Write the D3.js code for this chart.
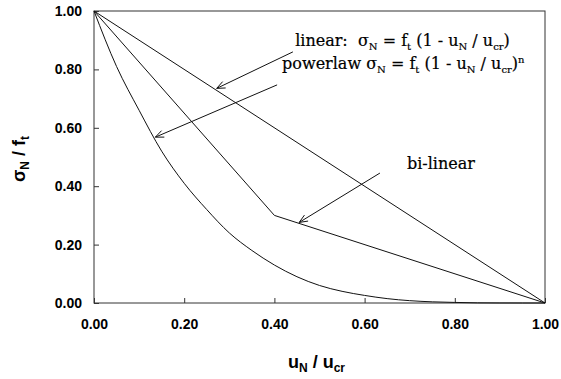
<!DOCTYPE html>
<html>
<head>
<meta charset="utf-8">
<script src="https://cdn.jsdelivr.net/npm/d3@7"></script>
<style>
  body { margin: 0; background: #fff; }
  .tick-lbl { font-family: "Liberation Sans", Arial, sans-serif; font-weight: bold; font-size: 14px; }
  .ax-lbl { font-family: "Liberation Sans", Arial, sans-serif; font-weight: bold; font-size: 18px; }
  .note { font-family: "DejaVu Serif", serif; font-size: 16px; stroke: #000; stroke-width: 0.2px; }
</style>
</head>
<body>
<div id="chart"></div>
<script>
// curves (u_N/u_cr vs sigma_N/f_t)
var linearU = [0, 1];
var linearS = [1, 0];
var bilinearU = [0, 0.4, 1];
var bilinearS = [1, 0.3, 0];
var powerU = [0, 0.05, 0.1, 0.15, 0.2, 0.25, 0.3, 0.35, 0.4, 0.45, 0.5, 0.55, 0.6, 0.65, 0.7, 0.75, 0.8, 0.85, 0.9, 0.95, 1];
var powerS = [1, 0.81, 0.66, 0.52, 0.41, 0.32, 0.24, 0.18, 0.13, 0.09, 0.06, 0.04, 0.026, 0.015, 0.008, 0.004, 0.002, 0.0005, 0.0001, 0, 0];
var ticks = [0, 0.2, 0.4, 0.6, 0.8, 1.0];

var W = 561, H = 379;
var margin = { top: 11, right: 16, bottom: 76, left: 94 };

var svg = d3.select("#chart").append("svg")
  .attr("width", W).attr("height", H);

var x = d3.scaleLinear().domain([0, 1]).range([margin.left, W - margin.right]);
var y = d3.scaleLinear().domain([0, 1]).range([H - margin.bottom, margin.top]);

// frame
svg.append("rect")
  .attr("x", x(0)).attr("y", y(1))
  .attr("width", x(1) - x(0)).attr("height", y(0) - y(1))
  .attr("fill", "none").attr("stroke", "#333").attr("stroke-width", 1);

// axes with small inward ticks
var xAxis = svg.append("g").attr("transform", "translate(0," + y(0) + ")")
  .call(d3.axisBottom(x).tickValues(ticks).tickSizeInner(-5).tickSizeOuter(0).tickPadding(16).tickFormat(d3.format(".2f")));
var yAxis = svg.append("g").attr("transform", "translate(" + x(0) + ",0)")
  .call(d3.axisLeft(y).tickValues(ticks).tickSizeInner(-5).tickSizeOuter(0).tickPadding(12).tickFormat(d3.format(".2f")));
[xAxis, yAxis].forEach(function (g) {
  g.select(".domain").remove();
  g.selectAll("line").attr("stroke", "#333");
  g.selectAll("text").attr("class", "tick-lbl").attr("fill", "#000");
});

// curves
var line = d3.line().x(function (d) { return x(d[0]); }).y(function (d) { return y(d[1]); });
[[linearU, linearS, d3.curveLinear], [bilinearU, bilinearS, d3.curveLinear], [powerU, powerS, d3.curveMonotoneX]].forEach(function (c) {
  svg.append("path")
    .datum(d3.zip(c[0], c[1]))
    .attr("d", line.curve(c[2]))
    .attr("fill", "none").attr("stroke", "#111").attr("stroke-width", 1);
});

// rich text: segments [text, kind] where kind is "", "sub" or "sup"
function rich(t, segs, small) {
  var off = 0;
  segs.forEach(function (s) {
    var target = s[1] === "sub" ? 4 : s[1] === "sup" ? -6 : 0;
    var ts = t.append("tspan").attr("dy", target - off).text(s[0]);
    if (s[1]) ts.attr("font-size", small);
    off = target;
  });
}

// axis labels
var yl = svg.append("text").attr("class", "ax-lbl")
  .attr("transform", "translate(25," + (y(0.5) + 2) + ") rotate(-90)")
  .attr("text-anchor", "middle");
rich(yl, [["σ", ""], ["N", "sub"], [" / f", ""], ["t", "sub"]], 12);

var xl = svg.append("text").attr("class", "ax-lbl")
  .attr("x", x(0.5) - 3).attr("y", 368).attr("text-anchor", "middle");
rich(xl, [["u", ""], ["N", "sub"], [" / u", ""], ["cr", "sub"]], 12);

// annotation text
var t1 = svg.append("text").attr("class", "note").attr("x", x(0.446)).attr("y", y(0.88));
rich(t1, [["linear:\u00a0\u00a0σ", ""], ["N", "sub"], [" = f", ""], ["t", "sub"], [" (1 - u", ""], ["N", "sub"], [" / u", ""], ["cr", "sub"], [")", ""]], 10);

var t2 = svg.append("text").attr("class", "note").attr("x", x(0.417)).attr("y", y(0.8));
rich(t2, [["powerlaw σ", ""], ["N", "sub"], [" = f", ""], ["t", "sub"], [" (1 - u", ""], ["N", "sub"], [" / u", ""], ["cr", "sub"], [")", ""], ["n", "sup"]], 10);

svg.append("text").attr("class", "note").attr("x", x(0.694)).attr("y", y(0.46)).text("bi-linear");

// arrows: [tailU, tailS, tipU, tipS]
var arrows = [
  [0.441, 0.86, 0.272, 0.735],
  [0.406, 0.747, 0.136, 0.568],
  [0.634, 0.445, 0.455, 0.276]
];
arrows.forEach(function (a) {
  var x0 = x(a[0]), y0 = y(a[1]), x1 = x(a[2]), y1 = y(a[3]);
  var ang = Math.atan2(y1 - y0, x1 - x0), L = 9, sp = 0.4;
  var p1 = [x1 - L * Math.cos(ang - sp), y1 - L * Math.sin(ang - sp)];
  var p2 = [x1 - L * Math.cos(ang + sp), y1 - L * Math.sin(ang + sp)];
  svg.append("path")
    .attr("d", "M" + x0 + "," + y0 + "L" + x1 + "," + y1 + "M" + p1 + "L" + x1 + "," + y1 + "L" + p2)
    .attr("fill", "none").attr("stroke", "#111").attr("stroke-width", 1);
});
</script>
</body>
</html>
